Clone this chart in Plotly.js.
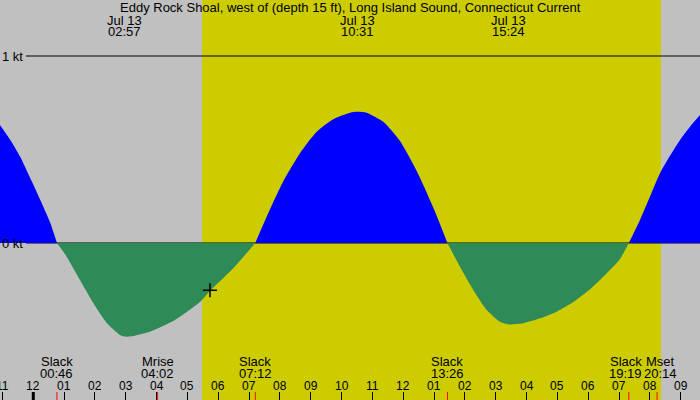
<!DOCTYPE html>
<html>
<head>
<meta charset="utf-8">
<script src="https://cdn.plot.ly/plotly-3.0.1.min.js"></script>
<style>html,body{margin:0;padding:0;background:#c0c0c0;}#chart{width:700px;height:400px;}</style>
</head>
<body>
<div id="chart"></div>
<script>
// ---- data (hours after 00:00 Jul 13, current in knots; + flood, - ebb) ----
var chartTitle = "Eddy Rock Shoal, west of (depth 15 ft), Long Island Sound, Connecticut Current";
var times = [-1.08, -0.756, -0.43, -0.108, 0.216, 0.54, 0.767,
  1.083, 1.515, 1.946, 2.381, 2.812, 2.95, 3.137, 3.785, 4.596, 5.407, 5.731, 6.487, 7.2,
  7.677, 8.109, 8.65, 9.192, 9.731, 10.273, 10.517, 10.814, 11.352, 11.894, 12.436, 12.974, 13.433,
  13.84, 14.272, 14.706, 15.137, 15.4, 15.893, 16.435, 16.977, 17.515, 18.057, 18.599, 19.03, 19.317,
  19.679, 20.003, 20.328, 20.652, 20.977, 21.301, 21.625];
var speeds = [0.631, 0.553, 0.462, 0.350, 0.234, 0.112, 0,
  -0.073, -0.198, -0.321, -0.428, -0.492, -0.500, -0.500, -0.474, -0.412, -0.316, -0.256, -0.135, 0,
  0.180, 0.330, 0.480, 0.595, 0.662, 0.697, 0.702, 0.697, 0.648, 0.545, 0.385, 0.190, 0,
  -0.127, -0.251, -0.358, -0.421, -0.435, -0.429, -0.403, -0.367, -0.316, -0.248, -0.162, -0.085, 0,
  0.123, 0.248, 0.373, 0.466, 0.551, 0.622, 0.684];

var maxDates = ["Jul 13", "Jul 13", "Jul 13"];
var maxTimes = [2.95, 10.517, 15.4];
var maxLabels = ["02:57", "10:31", "15:24"];

var eventTimes = [0.767, 4.033, 7.2, 13.433, 19.317, 20.233];
var eventNames = ["Slack", "Mrise", "Slack", "Slack", "Slack", "Mset"];
var eventLabels = ["00:46", "04:02", "07:12", "13:26", "19:19", "20:14"];

var hourTicks = [-1,0,1,2,3,4,5,6,7,8,9,10,11,12,13,14,15,16,17,18,19,20,21];
var hourLabels = ["11","12","01","02","03","04","05","06","07","08","09","10","11",
                  "12","01","02","03","04","05","06","07","08","09"];

var levelValues = [1, 0];
var levelLabels = ["1 kt", "0 kt"];

var sunrise = 5.472, sunset = 20.361;
var nowTime = [5.731], nowSpeed = [-0.253];

// ---- build ----
var FONT = "Liberation Sans, Arial, sans-serif";
var FS = 13;
var W = 700, H = 400;
function py(p){ return 1 - p / H; }

// split series into lobes at slack (zero) points
var segs = [], cur = {x: [], y: []};
for (var i = 0; i < times.length; i++) {
  cur.x.push(times[i]); cur.y.push(speeds[i]);
  if (speeds[i] === 0 && cur.x.length > 1) {
    segs.push(cur); cur = {x: [times[i]], y: [speeds[i]]};
  }
}
if (cur.x.length > 1) segs.push(cur);

var traces = segs.map(function(s){
  var pos = s.y.some(function(v){ return v > 0; });
  return {x: s.x, y: s.y, type: "scatter", mode: "lines",
    line: {width: 0, shape: "spline", smoothing: 0.6},
    fill: "tozeroy", fillcolor: pos ? "#0000ff" : "#2e8b57", hoverinfo: "skip"};
});
traces.push({x: nowTime, y: nowSpeed, type: "scatter", mode: "markers",
  marker: {symbol: "cross-thin", size: 10, line: {width: 1.5, color: "#000"}}, hoverinfo: "skip"});

var shapes = [
  {type: "rect", xref: "x", yref: "paper", x0: sunrise, x1: sunset, y0: 0, y1: 1,
   fillcolor: "#cccc00", line: {width: 0}, layer: "below"},
  {type: "line", xref: "paper", yref: "y", x0: 26 / W, x1: 1, y0: levelValues[1], y1: levelValues[1],
   line: {color: "#000", width: 1}, layer: "below"},
  {type: "line", xref: "paper", yref: "y", x0: 26 / W, x1: 1, y0: levelValues[0], y1: levelValues[0],
   line: {color: "#000", width: 1}, layer: "above"},
  {type: "line", xref: "x", yref: "paper", x0: 0, x1: 0, y0: 0, y1: 8 / H,
   line: {color: "#000", width: 3}, layer: "above"}
];
eventTimes.forEach(function(t){
  shapes.push({type: "line", xref: "x", yref: "paper", x0: t, x1: t, y0: 0, y1: 8 / H,
    line: {color: "#ff0000", width: 1}, layer: "above"});
});

var ann = [];
function txt(x, xref, y, text, anchor, xshift, size){
  ann.push({x: x, xref: xref, y: y, yref: "paper", text: text, showarrow: false,
    xanchor: anchor || "center", yanchor: "middle", xshift: xshift || 0,
    font: {family: FONT, size: size || FS, color: "#000"}, borderpad: 0});
}
txt(0.5, "paper", py(7.5), chartTitle);
maxTimes.forEach(function(t, k){
  txt(t, "x", py(20), maxDates[k]);
  txt(t, "x", py(31.5), maxLabels[k]);
});
eventTimes.forEach(function(t, k){
  var sh = (k === 4) ? -3 : (k === 5 ? 3 : 0);
  txt(t, "x", py(361.7), eventNames[k], "center", sh);
  txt(t, "x", py(373.7), eventLabels[k], "center", sh);
});
hourTicks.forEach(function(t, k){ txt(t, "x", py(386), hourLabels[k], "center", 0, 12); });
levelValues.forEach(function(v, k){
  ann.push({x: 1 / W, xref: "paper", y: v, yref: "y", text: levelLabels[k], showarrow: false,
    xanchor: "left", yanchor: "middle", borderpad: 0,
    font: {family: FONT, size: FS, color: "#000"}});
});

var layout = {
  width: W, height: H, margin: {l: 0, r: 0, t: 0, b: 0, pad: 0},
  paper_bgcolor: "#c0c0c0", plot_bgcolor: "#c0c0c0", showlegend: false,
  xaxis: {range: [-1.08, 21.625], showgrid: false, zeroline: false, showline: false,
    tickmode: "array", tickvals: hourTicks, ticks: "inside", ticklen: 8, tickwidth: 1,
    tickcolor: "#000", showticklabels: false, fixedrange: true},
  yaxis: {range: [-0.8396, 1.2995], showgrid: false, zeroline: false, showline: false,
    showticklabels: false, ticks: "", fixedrange: true},
  shapes: shapes, annotations: ann
};
Plotly.newPlot("chart", traces, layout, {displayModeBar: false, staticPlot: true});
</script>
</body>
</html>
